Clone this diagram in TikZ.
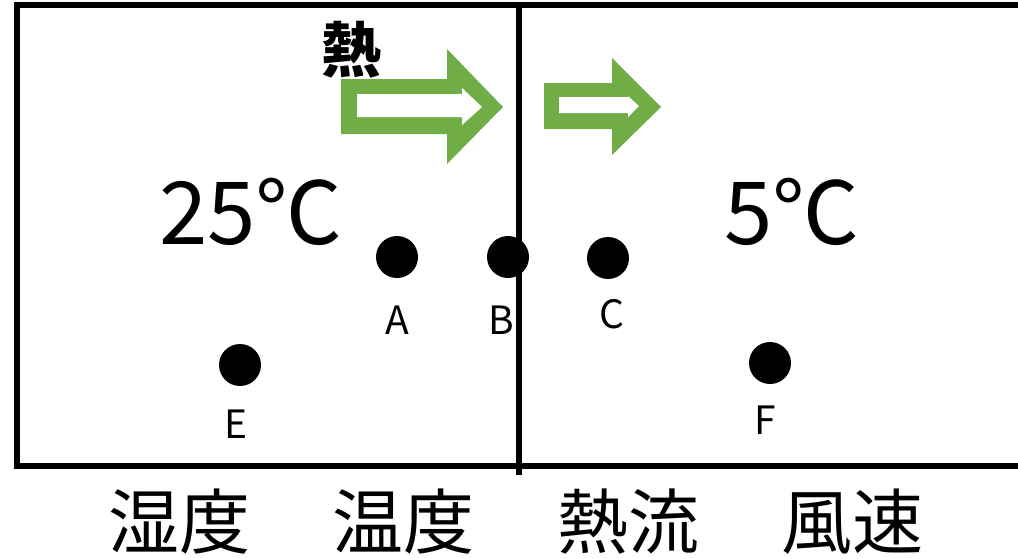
\documentclass[tikz,border=0pt]{standalone}
\usepackage{fontspec}
\setmainfont{Noto Sans CJK JP}
\definecolor{arrowgreen}{HTML}{70AD47}
\begin{document}
\begin{tikzpicture}[x=1pt,y=-1pt,
  dot/.style={circle,fill=black,inner sep=0pt,minimum size=42pt},
  ptlabel/.style={font=\fontsize{39}{39}\selectfont,inner sep=0pt},
  templabel/.style={font=\fontsize{87}{87}\selectfont,inner sep=0pt},
  bottomlabel/.style={font=\fontsize{71}{71}\selectfont,inner sep=0pt},
  frame/.style={line width=6.5pt,line cap=butt},
  greenarrow/.style={fill=arrowgreen},
  innerarrow/.style={fill=white}]
\useasboundingbox (0,0) rectangle (1018,558);
\begin{scope}
\clip (0,0) rectangle (1018,558);
% frame
\draw[frame,line join=miter] (1030,5) -- (17,5) -- (17,466) -- (1030,466);
\draw[frame] (519,5) -- (519,475);
\end{scope}
% heat label
\node[font=\fontsize{60}{60}\selectfont\bfseries,inner sep=0pt] (heat) at (351,50) {熱};
% big arrow
\fill[greenarrow] (341,79) -- (447,79) -- (447,49) -- (503,107) -- (447,164) -- (447,134) -- (341,134) -- cycle;
\fill[innerarrow] (357,94) -- (462,94) -- (462,88) -- (482,107) -- (462,125) -- (462,117) -- (357,117) -- cycle;
% small arrow
\fill[greenarrow] (544,83) -- (612,83) -- (612,58) -- (661,107) -- (612,155) -- (612,129) -- (544,129) -- cycle;
\fill[innerarrow] (559,97) -- (628,97) -- (628,96) -- (639,106) -- (628,117) -- (628,113) -- (559,113) -- cycle;
% temperatures
\node[templabel] (t25) at (251,212) {25℃};
\node[templabel] (t5) at (792,212) {5℃};
% dots
\node[dot] (A) at (397,257) {};
\node[dot] (B) at (508,257) {};
\node[dot] (C) at (608,258) {};
\node[dot] (E) at (240,365) {};
\node[dot] (F) at (770,363) {};
\node[ptlabel] (Al) at (397,320) {A};
\node[ptlabel] (Bl) at (501,320) {B};
\node[ptlabel] (Cl) at (612,314) {C};
\node[ptlabel] (El) at (236,424) {E};
\node[ptlabel] (Fl) at (765,420) {F};
% bottom labels
\node[bottomlabel] (l1) at (179,522) {湿度};
\node[bottomlabel] (l2) at (403,522) {温度};
\node[bottomlabel] (l3) at (628,522) {熱流};
\node[bottomlabel] (l4) at (852,522) {風速};
\end{tikzpicture}
\end{document}
